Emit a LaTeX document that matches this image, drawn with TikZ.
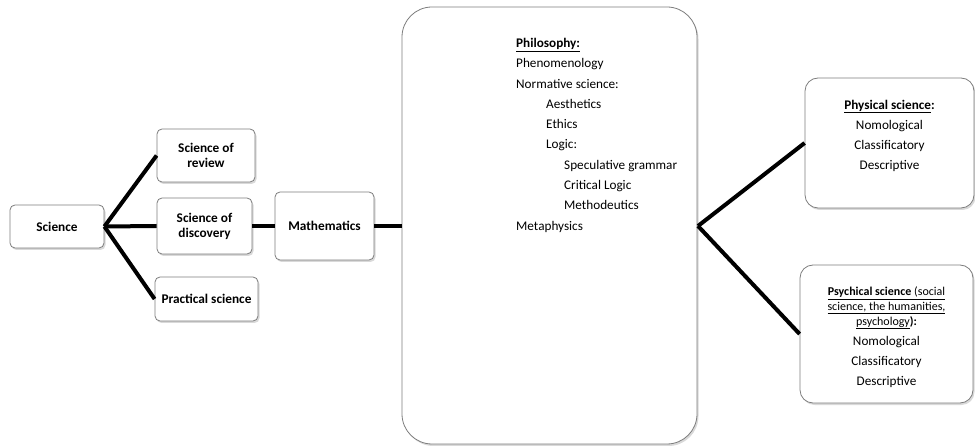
\documentclass[tikz,border=0pt]{standalone}
\usepackage{fontspec}
\setmainfont{Carlito}
\usetikzlibrary{
	positioning,
	shadows
}
\definecolor{BoxGray}{RGB}{125,125,125}

\tikzset{
	stepbox/.style={
		draw=BoxGray,
		line width=0.8pt,
		fill=white,
		rounded corners=5pt,
		drop shadow={opacity=0.3, shadow xshift=1.5pt, shadow yshift=-2pt},
		font=\fontsize{13.3}{15}\selectfont\bfseries,
		align=center,
		inner sep=2pt
	},
	bigbox/.style={stepbox, rounded corners=30pt},
	sidebox/.style={stepbox, rounded corners=13pt},
	lbl/.style={inner sep=0pt, align=center, font=\fontsize{13.2}{20.3}\selectfont},
	link/.style={line width=4pt, black}
}

\begin{document}
\begin{tikzpicture}[x=1pt, y=-1pt]
	
	\useasboundingbox (0,0) rectangle (975,446);
	
	% the fork on the right of the philosophy box
	\coordinate (forkR) at (698,226);
	
	\node[
	stepbox,
	minimum width=94pt,
	minimum height=43pt
	] (sci) at (57,226.5) {Science};
	
	\node[
	stepbox,
	minimum width=98pt,
	minimum height=53pt
	] (review) at (206,155.5) {Science of\\review};
	
	\node[
	stepbox,
	minimum width=95pt,
	minimum height=56pt
	] (discovery) at (204.5,226) {Science of\\discovery};
	
	\node[
	stepbox,
	minimum width=103pt,
	minimum height=44pt
	] (practical) at (206.5,299) {Practical science};
	
	\node[
	stepbox,
	minimum width=99pt,
	minimum height=68pt
	] (math) at (324.5,226) {Mathematics};
	
	\node[
	bigbox,
	minimum width=295pt,
	minimum height=437pt
	] (phil) at (549.5,225.5) {};
	
	\node[
	lbl,
	anchor=north west,
	align=left
	] (philtxt) at (516,38) {%
		\textbf{\underline{Philosophy:}}\\
		Phenomenology\\
		Normative science:\\
		\hspace*{30pt}Aesthetics\\
		\hspace*{30pt}Ethics\\
		\hspace*{30pt}Logic:\\
		\hspace*{48pt}Speculative grammar\\
		\hspace*{48pt}Critical Logic\\
		\hspace*{48pt}Methodeutics\\
		Metaphysics};
	
	\node[
	sidebox,
	minimum width=169pt,
	minimum height=130pt
	] (physical) at (889.5,143) {};
	
	\node[
	lbl,
	below=22pt of physical.north
	] (physicaltxt) {%
		\textbf{\underline{Physical science}:}\\
		Nomological\\
		Classificatory\\
		Descriptive};
	
	\node[
	sidebox,
	minimum width=173pt,
	minimum height=138pt
	] (psychical) at (886.5,334) {};
	
	\node[
	lbl,
	below=22pt of psychical.north
	] (psychicaltxt) {%
		{\fontsize{12}{14.5}\selectfont\underline{\textbf{Psychical science} (social}}\\[-5.8pt]
		{\fontsize{12}{14.5}\selectfont\underline{science, the humanities,}}\\[-5.3pt]
		{\fontsize{12}{14.5}\selectfont\underline{psychology}\textbf{):}}\\
		Nomological\\
		Classificatory\\
		Descriptive};
	
	\draw[link] (sci.east) -- (review.west);
	\draw[link] (sci.east) -- (discovery.west);
	\draw[link] (sci.east) -- (practical.west);
	\draw[link] (discovery.east) -- (math.west);
	\draw[link] (math.east) -- (phil.west |- math.east);
	\draw[link] (forkR) -- (physical.west);
	\draw[link] (forkR) -- (psychical.west);
	
\end{tikzpicture}
\end{document}
